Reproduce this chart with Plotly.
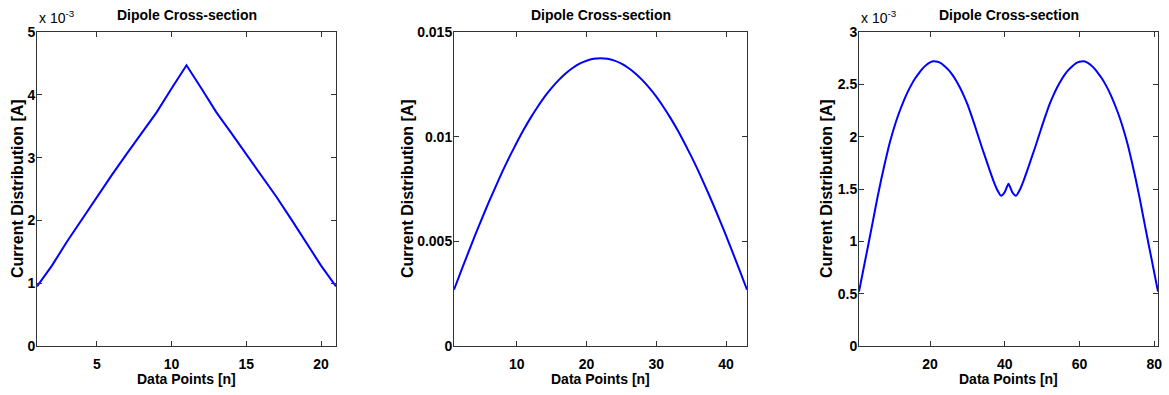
import plotly.graph_objects as go

W, H = 1169, 395

# ---- data (current in units of 1e-3 A for plots 1 and 3, A for plot 2) ----
n1 = list(range(1, 22))
i1_milli = [0.95, 1.28, 1.66, 2.02, 2.38, 2.72, 3.06, 3.39, 3.72, 4.10, 4.47,
            4.10, 3.72, 3.39, 3.06, 2.72, 2.38, 2.02, 1.66, 1.28, 0.95]

n2 = list(range(1, 44))
i2 = [0.00269, 0.00356, 0.00442, 0.00527, 0.00609, 0.00688, 0.00764, 0.00838,
      0.00907, 0.00972, 0.01034, 0.01091, 0.01143, 0.01191, 0.01233, 0.01270,
      0.01302, 0.01328, 0.01349, 0.01363, 0.01372, 0.01375, 0.01372, 0.01363,
      0.01349, 0.01328, 0.01302, 0.01270, 0.01233, 0.01191, 0.01143, 0.01091,
      0.01034, 0.00972, 0.00907, 0.00838, 0.00764, 0.00688, 0.00609, 0.00527,
      0.00442, 0.00356, 0.00269]

n3 = list(range(1, 82))
i3_milli = [0.52, 0.70, 0.88, 1.06, 1.245, 1.43, 1.60, 1.76, 1.91, 2.04,
            2.155, 2.255, 2.345, 2.425, 2.495, 2.555, 2.605, 2.65, 2.685, 2.71,
            2.72, 2.715, 2.70, 2.67, 2.635, 2.59, 2.535, 2.47, 2.395, 2.31,
            2.21, 2.105, 1.995, 1.885, 1.78, 1.675, 1.575, 1.49, 1.435, 1.47,
            1.55,
            1.47, 1.435, 1.49, 1.575, 1.675, 1.78, 1.885, 1.995, 2.105, 2.21,
            2.31, 2.395, 2.47, 2.535, 2.59, 2.635, 2.67, 2.70, 2.715, 2.72,
            2.71, 2.685, 2.65, 2.605, 2.555, 2.495, 2.425, 2.345, 2.255, 2.155,
            2.04, 1.91, 1.76, 1.60, 1.43, 1.245, 1.06, 0.88, 0.70, 0.52]

scale = 1e-3
i1 = [v * scale for v in i1_milli]
i3 = [v * scale for v in i3_milli]

x1_ticks = [5, 10, 15, 20]
x2_ticks = [10, 20, 30, 40]
x3_ticks = [20, 40, 60, 80]
y1_ticks = [0, 1, 2, 3, 4, 5]
y2_ticks = [0, 0.005, 0.01, 0.015]
y2_text = ["0", "0.005", "0.01", "0.015"]
y3_ticks = [0, 0.5, 1, 1.5, 2, 2.5, 3]
y3_text = ["0", "0.5", "1", "1.5", "2", "2.5", "3"]

title_text = "Dipole Cross-section"
xlabel = "Data Points [n]"
ylabel = "Current Distribution [A]"

# ---- layout (pixel boxes of the three axes) ----
boxes = [(37, 336), (454, 747), (859, 1158)]
top_px, bot_px = 32, 346
ydom = [1 - bot_px / H, 1 - top_px / H]

FONT = "Liberation Sans, Arial, Helvetica, sans-serif"
tickfont = dict(family=FONT, size=14, color="black", weight="bold")
titlefont = dict(family=FONT, size=14, color="black", weight="bold")
xlabfont = dict(family=FONT, size=14, color="black", weight="bold")
ylabfont = dict(family=FONT, size=16, color="black", weight="bold")

fig = go.Figure()
series = [(n1, i1, "linear"), (n2, i2, "spline"), (n3, i3, "spline")]
for k, (xs, ys, shp) in enumerate(series):
    sfx = "" if k == 0 else str(k + 1)
    fig.add_trace(go.Scatter(x=xs, y=ys, mode="lines",
                             line=dict(color="#0000FF", width=2, shape=shp,
                                       smoothing=0.5),
                             xaxis="x" + sfx, yaxis="y" + sfx,
                             showlegend=False, hoverinfo="skip"))

axis_common = dict(showline=True, linecolor="#333333", linewidth=1,
                   mirror="ticks", ticks="inside", ticklen=5, tickwidth=1,
                   tickcolor="#333333", showgrid=False, zeroline=False,
                   tickfont=tickfont, automargin=False)

xranges = [[1, 21], [1, 43], [1, 81]]
xticks = [x1_ticks, x2_ticks, x3_ticks]
yranges = [[0, 5 * scale], [0, 0.015], [0, 3 * scale]]
yticks = [[v * scale for v in y1_ticks], y2_ticks, [v * scale for v in y3_ticks]]
ytexts = [[str(v) for v in y1_ticks], y2_text, y3_text]

layout = dict(width=W, height=H,
              margin=dict(l=0, r=0, t=0, b=0, pad=0, autoexpand=False),
              paper_bgcolor="white", plot_bgcolor="white", showlegend=False)
for k in range(3):
    sfx = "" if k == 0 else str(k + 1)
    l, r = boxes[k]
    layout["xaxis" + sfx] = dict(axis_common, domain=[l / W, r / W],
                                 range=xranges[k], tickvals=xticks[k],
                                 anchor="y" + sfx, ticklabelstandoff=5)
    layout["yaxis" + sfx] = dict(axis_common, domain=ydom, range=yranges[k],
                                 tickvals=yticks[k], ticktext=ytexts[k],
                                 anchor="x" + sfx, ticklabelstandoff=-2)
fig.update_layout(**layout)

ylab_x = [17, 407, 826]
annotations = []
for k in range(3):
    l, r = boxes[k]
    cx = (l + r) / 2 / W
    annotations.append(dict(text=title_text, x=cx, y=1 - 15 / H, xref="paper",
                            yref="paper", showarrow=False, font=titlefont,
                            xanchor="center", yanchor="middle"))
    annotations.append(dict(text=xlabel, x=cx, y=1 - 379 / H, xref="paper",
                            yref="paper", showarrow=False, font=xlabfont,
                            xanchor="center", yanchor="middle"))
    annotations.append(dict(text=ylabel, x=ylab_x[k] / W,
                            y=1 - (top_px + bot_px) / 2 / H, xref="paper",
                            yref="paper", showarrow=False, font=ylabfont,
                            textangle=-90, xanchor="center", yanchor="middle"))
for k in (0, 2):
    l, r = boxes[k]
    annotations.append(dict(text="x 10<sup>-3</sup>", x=l / W, y=1 - 28 / H,
                            xref="paper", yref="paper", showarrow=False,
                            font=dict(family=FONT, size=14, color="black"),
                            xanchor="left", yanchor="bottom"))
fig.update_layout(annotations=annotations)

fig.write_html("out.html")
